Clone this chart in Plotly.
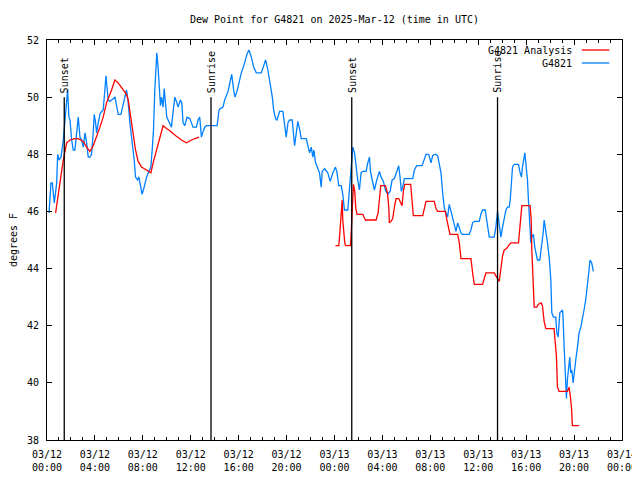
import pandas as pd
import plotly.graph_objects as go

BASE = pd.Timestamp("2025-03-12 00:00")
TITLE = "Dew Point for G4821 on 2025-Mar-12 (time in UTC)"
Y_TITLE = "degrees F"
X_RANGE_H = [0, 48]
Y_RANGE = [38, 52]
Y_TICKS = [38, 40, 42, 44, 46, 48, 50, 52]

# Observation series G4821 (hours since 03/12 00:00 UTC, deg F)
obs_hours = [0.17, 0.33, 0.44, 0.52, 0.61, 0.81, 0.89, 1.0, 1.17, 1.36, 1.5, 1.64, 1.72, 1.83, 1.92,
             2.06, 2.19, 2.33, 2.42, 2.61, 2.75, 2.89, 3.03, 3.17, 3.31, 3.44, 3.58, 3.72, 3.86, 3.94,
             4.06, 4.14, 4.28, 4.42, 4.56, 4.69, 4.83, 4.92, 5.03, 5.11, 5.25, 5.53, 5.67, 5.81, 5.94,
             6.17, 6.36, 6.5, 6.64, 6.78, 6.92, 7.11, 7.28, 7.39, 7.56, 7.67, 7.83, 7.94, 8.11, 8.31,
             8.5, 8.67, 8.78, 8.89, 9.0, 9.08, 9.17, 9.28, 9.36, 9.47, 9.56, 9.69, 9.78, 9.89, 10.0,
             10.17, 10.39, 10.53, 10.67, 10.81, 10.94, 11.14, 11.25, 11.36, 11.5, 11.69, 11.92, 12.06,
             12.19, 12.47, 12.61, 12.75, 12.89, 13.03, 13.17, 13.31, 14.2, 14.36, 14.47, 14.69, 14.83,
             15.11, 15.31, 15.42, 15.58, 15.69, 15.86, 16.08, 16.22, 16.5, 16.69, 16.86, 17.06, 17.25,
             17.47, 17.89, 18.08, 18.25, 18.44, 18.64, 18.81, 18.92, 19.08, 19.19, 19.42, 19.69, 19.83,
             19.97, 20.11, 20.25, 20.47, 20.58, 20.67, 20.81, 20.94, 21.08, 21.22, 21.64, 21.78, 21.92,
             22.06, 22.19, 22.28, 22.42, 22.61, 22.75, 22.89, 22.97, 23.17, 23.44, 23.64, 23.86, 24.08,
             24.19, 24.36, 24.56, 24.69, 24.83, 25.11, 25.25, 25.39, 25.53, 25.67, 25.81, 25.94, 26.08,
             26.22, 26.36, 26.64, 26.78, 26.92, 27.0, 27.14, 27.33, 27.53, 27.75, 27.89, 28.08, 28.25,
             28.44, 28.64, 28.81, 29.0, 29.19, 29.36, 29.47, 29.58, 29.69, 29.83, 29.97, 30.53, 30.67,
             30.86, 31.31, 31.5, 31.64, 31.86, 32.06, 32.19, 32.42, 32.61, 32.75, 32.89, 33.03, 33.17,
             33.31, 33.44, 33.58, 33.72, 33.86, 34.0, 34.14, 34.28, 34.42, 34.56, 34.69, 35.25, 35.39,
             35.53, 35.67, 36.08, 36.22, 36.36, 36.58, 36.69, 36.81, 36.92, 37.33, 37.47, 37.61, 37.75,
             37.89, 38.03, 38.17, 38.31, 38.44, 38.58, 38.67, 38.75, 38.86, 39.0, 39.36, 39.47, 39.61,
             39.69, 39.81, 39.89, 39.97, 40.11, 40.19, 40.31, 40.39, 40.47, 40.61, 40.72, 40.86, 40.94,
             41.14, 41.28, 41.42, 41.5, 41.64, 41.78, 41.92, 42.06, 42.14, 42.28, 42.47, 42.56, 42.67,
             42.81, 43.03, 43.08, 43.17, 43.25, 43.36, 43.44, 43.53, 43.64, 43.72, 43.81, 43.92, 44.0,
             44.14, 44.28, 44.42, 44.56, 44.69, 44.83, 44.97, 45.11, 45.25, 45.33, 45.47, 45.61]
obs_values = [45.95, 47.0, 47.0, 46.5, 46.3, 47.0, 48.0, 47.8, 47.9, 48.5, 49.3, 50.0, 50.25, 49.3, 49.2,
              48.5, 48.15, 48.15, 48.6, 49.3, 48.6, 48.5, 48.25, 48.75, 48.4, 47.9, 47.9, 48.0, 48.75, 49.4,
              49.1, 48.75, 49.1, 49.4, 49.5, 49.55, 50.25, 50.75, 50.25, 49.9, 49.85, 49.95, 50.0, 49.7, 49.4,
              49.4, 49.7, 50.0, 50.25, 49.8, 49.1, 48.5, 47.8, 47.2, 47.1, 47.2, 46.85, 46.6, 46.85, 47.2,
              47.4, 47.55, 48.15, 48.85, 50.25, 51.2, 51.55, 51.0, 50.25, 49.7, 50.0, 49.65, 50.3, 49.8, 49.3,
              49.15, 48.95, 49.5, 50.0, 49.85, 49.65, 49.9, 49.8, 49.1, 49.0, 49.3, 49.25, 49.1,
              48.95, 48.95, 49.2, 49.3, 48.6, 48.8, 48.95, 49.0, 49.0, 49.55, 49.6, 49.65, 49.9,
              50.2, 50.55, 50.8, 50.25, 50.0, 50.2, 50.65, 50.85, 51.2, 51.5, 51.65, 51.4, 51.05,
              50.85, 50.85, 51.05, 51.3, 50.95, 50.5, 50.0, 49.55, 49.25, 49.2, 49.5, 49.5, 48.95,
              48.6, 49.1, 49.2, 49.2, 48.75, 48.3, 48.75, 49.15, 48.9, 48.55, 48.55, 48.25, 48.05,
              48.25, 47.9, 48.15, 47.7, 47.5, 47.35, 46.85, 47.4, 47.5, 47.35, 47.05, 47.35, 47.55,
              47.4, 46.9, 46.9, 46.6, 46.05, 46.05, 46.75, 47.75, 48.25, 48.05, 47.5, 47.1, 46.75,
              47.35, 47.4, 47.4, 47.7, 47.9, 47.4, 47.1, 46.75, 47.1, 47.4, 47.2, 47.05, 46.75,
              46.6, 46.7, 47.1, 47.15, 47.4, 47.6, 47.2, 46.7, 46.85, 47.15, 47.15, 47.15, 47.45,
              47.6, 47.6, 47.85, 48.0, 48.0, 47.7, 47.95, 48.0, 47.95, 47.7, 47.35, 46.65, 46.1,
              45.95, 45.8, 46.25, 46.0, 45.7, 45.45, 45.3, 45.6, 45.4, 45.25, 45.2, 45.2, 45.35,
              45.6, 45.65, 45.65, 45.9, 46.05, 46.05, 45.7, 45.35, 45.1, 45.1, 45.45, 46.0, 45.45,
              45.1, 45.45, 45.8, 46.05, 46.15, 46.15, 46.4, 46.95, 47.55, 47.65, 47.65, 47.4, 47.2,
              47.55, 47.9, 48.05, 47.7, 47.1, 46.4, 45.6, 44.9, 45.1, 45.2, 44.75, 44.4, 44.3,
              44.3, 44.75, 45.25, 45.7, 45.35, 44.9, 44.4, 43.6, 42.45, 42.3, 42.3, 41.75, 41.6,
              42.45, 42.55, 42.3, 41.25, 40.35, 39.45, 40.1, 40.55, 40.9, 40.35, 40.45, 40.0, 40.35,
              40.8, 41.25, 41.75, 41.95, 42.2, 42.55, 42.9, 43.35, 43.95, 44.3, 44.2, 43.9]

# Analysis series G4821 Analysis (None = gap)
ana_hours = [0.72, 0.86, 1.08, 1.36, 1.5, 1.64, 1.92, 2.33, 2.61, 3.03, 3.31, 3.58, 3.86, 4.14, 4.42,
             4.69, 4.97, 5.39, 5.67, 5.94, 6.36, 6.64, 6.78, 7.0, 7.19, 7.39, 7.61, 7.89, 8.31, 8.67,
             8.86, 9.14, 9.42, 9.69, 9.97, 10.17, 10.75, 11.22, 11.64, 12.06, 12.69, 18.0,
             24.08, 24.36, 24.42, 24.56, 24.64, 24.69, 24.78, 24.86, 24.92, 25.33, 25.39, 25.47, 25.58,
             25.69, 25.78, 25.89, 26.36, 26.58, 26.69, 27.47, 27.64, 27.75, 27.86, 28.25, 28.42, 28.53,
             28.58, 28.72, 28.86, 29.0, 29.14, 29.36, 29.5, 29.64, 29.75, 29.86, 30.36, 30.47, 30.58,
             31.36, 31.47, 31.64, 32.33, 32.47, 32.61, 33.25, 33.36, 33.53, 33.64, 34.28, 34.42, 34.56,
             35.39, 35.53, 35.67, 36.36, 36.5, 36.64, 37.33, 37.53, 37.75, 37.89, 38.03, 38.17, 38.36,
             38.53, 38.72, 39.36, 39.47, 39.56, 39.64, 40.33, 40.42, 40.47, 40.53, 40.61, 40.67, 40.89,
             41.03, 41.25, 41.36, 41.5, 41.64, 42.33, 42.42, 42.53, 42.61, 42.75, 43.44, 43.58, 43.67,
             43.78, 43.86, 44.42]
ana_values = [45.95, 46.4, 47.0, 47.8, 48.15, 48.4, 48.5, 48.55, 48.55, 48.45, 48.25, 48.1, 48.3, 48.6, 48.95,
              49.3, 49.8, 50.25, 50.6, 50.5, 50.25, 50.1, 49.9, 49.3, 48.75, 48.15, 47.75, 47.55, 47.45, 47.35,
              47.7, 48.15, 48.6, 49.0, 48.9, 48.85, 48.65, 48.5, 48.4, 48.5, 48.6, None,
              44.8, 44.8, 45.1, 46.15, 46.4, 45.7, 45.1, 44.9, 44.8, 44.8, 45.2, 46.25, 46.95,
              46.7, 46.1, 45.9, 45.9, 45.7, 45.7, 45.7, 45.95, 46.4, 46.9, 46.9, 46.65, 46.15,
              45.6, 45.65, 45.75, 46.15, 46.45, 46.45, 46.3, 46.2, 46.7, 46.95, 46.95, 46.4, 45.85,
              45.85, 46.1, 46.35, 46.35, 46.1, 46.0, 46.0, 45.75, 45.45, 45.2, 45.2, 44.9, 44.35,
              44.35, 43.85, 43.45, 43.45, 43.65, 43.85, 43.85, 43.7, 43.55, 44.0, 44.45, 44.65, 44.7,
              44.8, 44.9, 44.9, 45.5, 46.0, 46.2, 46.2, 45.7, 44.65, 44.05, 43.25, 42.65, 42.65,
              42.75, 42.8, 42.7, 42.15, 41.9, 41.9, 41.5, 40.9, 39.85, 39.7, 39.7, 39.85, 39.6,
              39.15, 38.5, 38.5]

# Sunrise / sunset events (hours since 03/12 00:00 UTC)
sun_labels = ["Sunset", "Sunrise", "Sunset", "Sunrise", "Sunset"]
sun_hours = [1.44, 13.69, 25.44, 37.61, 49.45]
SUN_LINE_TOP = 50

series_names = ["G4821 Analysis", "G4821"]
series_colors = ["#ff0000", "#0080ff"]


def to_time(hours):
    return [None if h is None else BASE + pd.Timedelta(hours=h) for h in hours]


FONT = dict(family="DejaVu Sans Mono, monospace", size=10, color="black")

# the page body keeps the browser's default 8px margin, so the figure is sized to fit the window
FIG_W, FIG_H = 632, 472

fig = go.Figure()
fig.add_trace(go.Scatter(x=to_time(obs_hours), y=obs_values, mode="lines", name=series_names[1],
                         line=dict(color=series_colors[1], width=1.3), showlegend=False))
fig.add_trace(go.Scatter(x=to_time(ana_hours), y=ana_values, mode="lines", name=series_names[0],
                         line=dict(color=series_colors[0], width=1.3), showlegend=False,
                         connectgaps=False))

span_h = X_RANGE_H[1] - X_RANGE_H[0]
ytop_paper = (SUN_LINE_TOP - Y_RANGE[0]) / (Y_RANGE[1] - Y_RANGE[0])
shapes = []
annotations = []
for lab, h in zip(sun_labels, sun_hours):
    xp = (h - X_RANGE_H[0]) / span_h
    shapes.append(dict(type="line", xref="paper", yref="paper", x0=xp, x1=xp, y0=0, y1=ytop_paper,
                       line=dict(color="black", width=1.3)))
    annotations.append(dict(xref="paper", yref="paper", x=xp, y=ytop_paper, text=lab, textangle=-90,
                            showarrow=False, xanchor="center", yanchor="bottom", yshift=2, font=FONT))

# legend (text then line sample, gnuplot style)
leg_y = [0.975, 0.9425]
for name, col, ly in zip(series_names, series_colors, leg_y):
    annotations.append(dict(xref="paper", yref="paper", x=0.9165, y=ly, text=name, showarrow=False,
                            xanchor="right", yanchor="middle", font=FONT))
    shapes.append(dict(type="line", xref="paper", yref="paper", x0=0.930, x1=0.978, y0=ly, y1=ly,
                       line=dict(color=col, width=1.3)))

fig.update_layout(
    width=FIG_W, height=FIG_H,
    margin=dict(l=39, r=18, t=32, b=40, autoexpand=False),
    paper_bgcolor="white", plot_bgcolor="white",
    font=FONT,
    title=dict(text=TITLE, x=0.5, xref="paper", xanchor="center", y=1 - 11 / FIG_H, yref="container",
               yanchor="middle", font=FONT),
    shapes=shapes, annotations=annotations,
    showlegend=False,
)
fig.update_xaxes(
    type="date",
    range=[BASE + pd.Timedelta(hours=X_RANGE_H[0]), BASE + pd.Timedelta(hours=X_RANGE_H[1])],
    tick0=BASE, dtick=4 * 3600 * 1000, tickformat="%m/%d<br>%H:%M",
    ticks="inside", ticklen=5, tickcolor="black", tickwidth=1,
    minor=dict(dtick=3600 * 1000, ticks="inside", ticklen=3, tickcolor="black", showgrid=False),
    showline=True, linecolor="black", linewidth=1, mirror="ticks",
    showgrid=False, zeroline=False, ticklabelstandoff=5, tickfont=FONT, automargin=False,
    ticklabeloverflow="allow",
)
fig.update_yaxes(
    range=Y_RANGE, tickvals=Y_TICKS,
    ticks="inside", ticklen=5, tickcolor="black", tickwidth=1,
    showline=True, linecolor="black", linewidth=1, mirror="ticks",
    showgrid=False, zeroline=False, ticklabelstandoff=5, tickfont=FONT,
    title=dict(text=Y_TITLE, font=FONT, standoff=13), automargin=False,
)

fig.write_html("out.html")
